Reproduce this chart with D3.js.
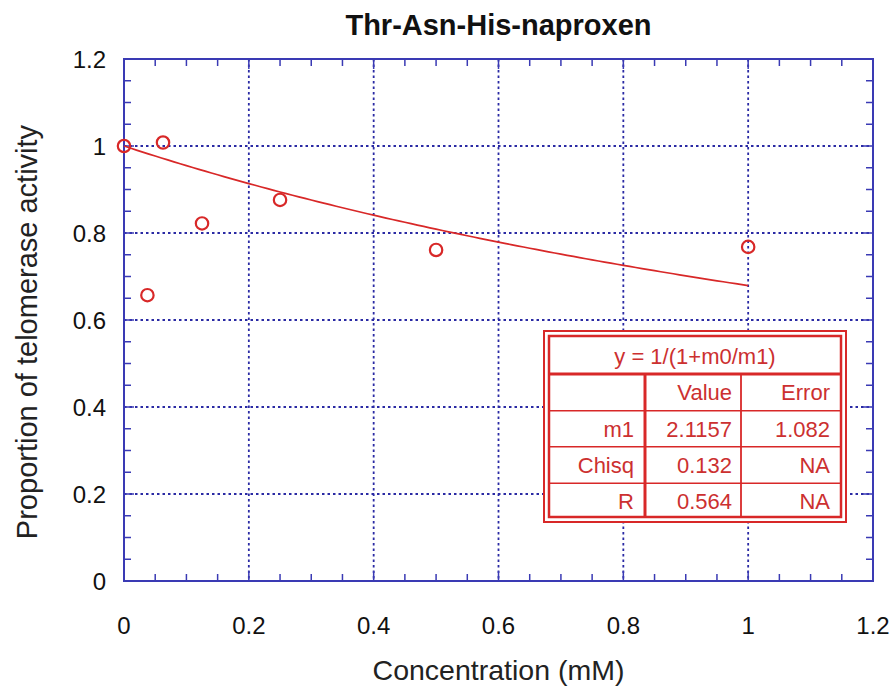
<!DOCTYPE html>
<html>
<head>
<meta charset="utf-8">
<script src="https://cdn.jsdelivr.net/npm/d3@7"></script>
<style>
  html, body { margin: 0; padding: 0; background: #fff; }
  svg { display: block; font-family: "Liberation Sans", Arial, sans-serif; }
</style>
</head>
<body>
<svg id="chart" width="896" height="690"></svg>
<script>
// Measured telomerase activity vs. concentration
const concentration = [0, 0.0375, 0.0625, 0.125, 0.25, 0.5, 1.0];
const activity      = [1.0, 0.657, 1.008, 0.822, 0.876, 0.761, 0.768];

// Fit parameters y = 1/(1+m0/m1)
const fitEquation = "y = 1/(1+m0/m1)";
const fitHeader = ["", "Value", "Error"];
const fitNames  = ["m1", "Chisq", "R"];
const fitValues = ["2.1157", "0.132", "0.564"];
const fitErrors = ["1.082", "NA", "NA"];
const m1 = 2.1157;

const xTicks = [0, 0.2, 0.4, 0.6, 0.8, 1, 1.2];
const yTicks = [0, 0.2, 0.4, 0.6, 0.8, 1, 1.2];

const svg = d3.select("#chart");
const pLeft = 124, pRight = 873, pTop = 59, pBottom = 581;

const x = d3.scaleLinear().domain([0, 1.2]).range([pLeft, pRight]);
const y = d3.scaleLinear().domain([0, 1.2]).range([pBottom, pTop]);

const axisBlue = "#3a3ab4";
const gridBlue = "#2a2aa4";
const red = "#d82828";
const textRed = "#cc3030";

// dotted grid
const g = svg.append("g");
g.selectAll(".vgrid").data(xTicks.slice(1, -1)).join("line")
  .attr("x1", d => x(d)).attr("x2", d => x(d))
  .attr("y1", pTop).attr("y2", pBottom)
  .attr("stroke", gridBlue).attr("stroke-width", 1.8).attr("stroke-dasharray", "2.5,3");
g.selectAll(".hgrid").data(yTicks.slice(1, -1)).join("line")
  .attr("y1", d => y(d)).attr("y2", d => y(d))
  .attr("x1", pLeft).attr("x2", pRight)
  .attr("stroke", gridBlue).attr("stroke-width", 1.8).attr("stroke-dasharray", "2.5,3");

// inward ticks on all four sides
const minorVals = d3.range(0, 25).map(i => i * 0.05).filter((v, i) => i % 4 !== 0);
function ticks(vals, len) {
  const tg = g.append("g").attr("stroke", axisBlue).attr("stroke-width", 1.5);
  tg.selectAll(null).data(vals).join("line")
    .attr("x1", d => x(d)).attr("x2", d => x(d)).attr("y1", pBottom).attr("y2", pBottom - len);
  tg.selectAll(null).data(vals).join("line")
    .attr("x1", d => x(d)).attr("x2", d => x(d)).attr("y1", pTop).attr("y2", pTop + len);
  tg.selectAll(null).data(vals).join("line")
    .attr("y1", d => y(d)).attr("y2", d => y(d)).attr("x1", pLeft).attr("x2", pLeft + len);
  tg.selectAll(null).data(vals).join("line")
    .attr("y1", d => y(d)).attr("y2", d => y(d)).attr("x1", pRight).attr("x2", pRight - len);
}
ticks(minorVals, 7);
ticks(xTicks.slice(1, -1), 10);

// frame
g.append("rect").attr("x", pLeft).attr("y", pTop)
  .attr("width", pRight - pLeft).attr("height", pBottom - pTop)
  .attr("fill", "none").attr("stroke", axisBlue).attr("stroke-width", 2);

// tick labels
svg.append("g").selectAll("text").data(xTicks).join("text")
  .attr("x", d => x(d)).attr("y", 634)
  .attr("text-anchor", "middle").attr("font-size", 24).attr("fill", "#111")
  .text(d => d3.format("")(d));
svg.append("g").selectAll("text").data(yTicks).join("text")
  .attr("x", 106).attr("y", d => y(d) + 9)
  .attr("text-anchor", "end").attr("font-size", 24).attr("fill", "#111")
  .text(d => d3.format("")(d));

// titles
svg.append("text").attr("x", (pLeft + pRight) / 2).attr("y", 35)
  .attr("text-anchor", "middle").attr("font-size", 29).attr("font-weight", "bold")
  .attr("fill", "#111").text("Thr-Asn-His-naproxen");
svg.append("text").attr("x", (pLeft + pRight) / 2).attr("y", 680)
  .attr("text-anchor", "middle").attr("font-size", 28.5).attr("fill", "#222")
  .text("Concentration (mM)");
svg.append("text").attr("transform", `translate(37,${(pTop + pBottom) / 2 + 12}) rotate(-90)`)
  .attr("text-anchor", "middle").attr("font-size", 29).attr("fill", "#222")
  .text("Proportion of telomerase activity");

// fitted curve from m1
const curveX = d3.range(0, 101).map(i => i / 100);
const line = d3.line().x(d => x(d)).y(d => y(1 / (1 + d / m1)));
svg.append("path").datum(curveX).attr("d", line)
  .attr("fill", "none").attr("stroke", red).attr("stroke-width", 1.7);

// data points
svg.append("g").selectAll("circle").data(concentration).join("circle")
  .attr("cx", d => x(d)).attr("cy", (d, i) => y(activity[i])).attr("r", 6.2)
  .attr("fill", "none").attr("stroke", red).attr("stroke-width", 2.2);

// parameter table
const tb = svg.append("g");
const ox0 = 544, oy0 = 331, ox1 = 846, oy1 = 522;
const ix0 = 549, iy0 = 336, ix1 = 841, iy1 = 517;
tb.append("rect").attr("x", ox0).attr("y", oy0).attr("width", ox1 - ox0).attr("height", oy1 - oy0)
  .attr("fill", "#fff").attr("stroke", red).attr("stroke-width", 2);
tb.append("rect").attr("x", ix0).attr("y", iy0).attr("width", ix1 - ix0).attr("height", iy1 - iy0)
  .attr("fill", "#fff").attr("stroke", red).attr("stroke-width", 2.5);
const rowY = [374, 410.7, 446.7, 483.3];
const colX = [645, 741];
tb.selectAll(".row").data(rowY).join("line")
  .attr("x1", ix0).attr("x2", ix1).attr("y1", d => d).attr("y2", d => d)
  .attr("stroke", red).attr("stroke-width", (d, i) => i === 0 ? 3 : 1.6);
tb.selectAll(".col").data(colX).join("line")
  .attr("x1", d => d).attr("x2", d => d).attr("y1", rowY[0]).attr("y2", iy1)
  .attr("stroke", red).attr("stroke-width", (d, i) => i === 0 ? 3 : 1.8);

tb.append("text").attr("x", (ix0 + ix1) / 2).attr("y", 364)
  .attr("text-anchor", "middle").attr("font-size", 22).attr("fill", textRed).text(fitEquation);
const colRight = [634, 732, 830];
const rowBase = [400, 437, 473, 509];
const tableRows = [fitHeader].concat(fitNames.map((n, i) => [n, fitValues[i], fitErrors[i]]));
tableRows.forEach((row, r) => {
  row.forEach((cell, c) => {
    tb.append("text").attr("x", colRight[c]).attr("y", rowBase[r])
      .attr("text-anchor", "end").attr("font-size", 22).attr("fill", textRed).text(cell);
  });
});
</script>
</body>
</html>
